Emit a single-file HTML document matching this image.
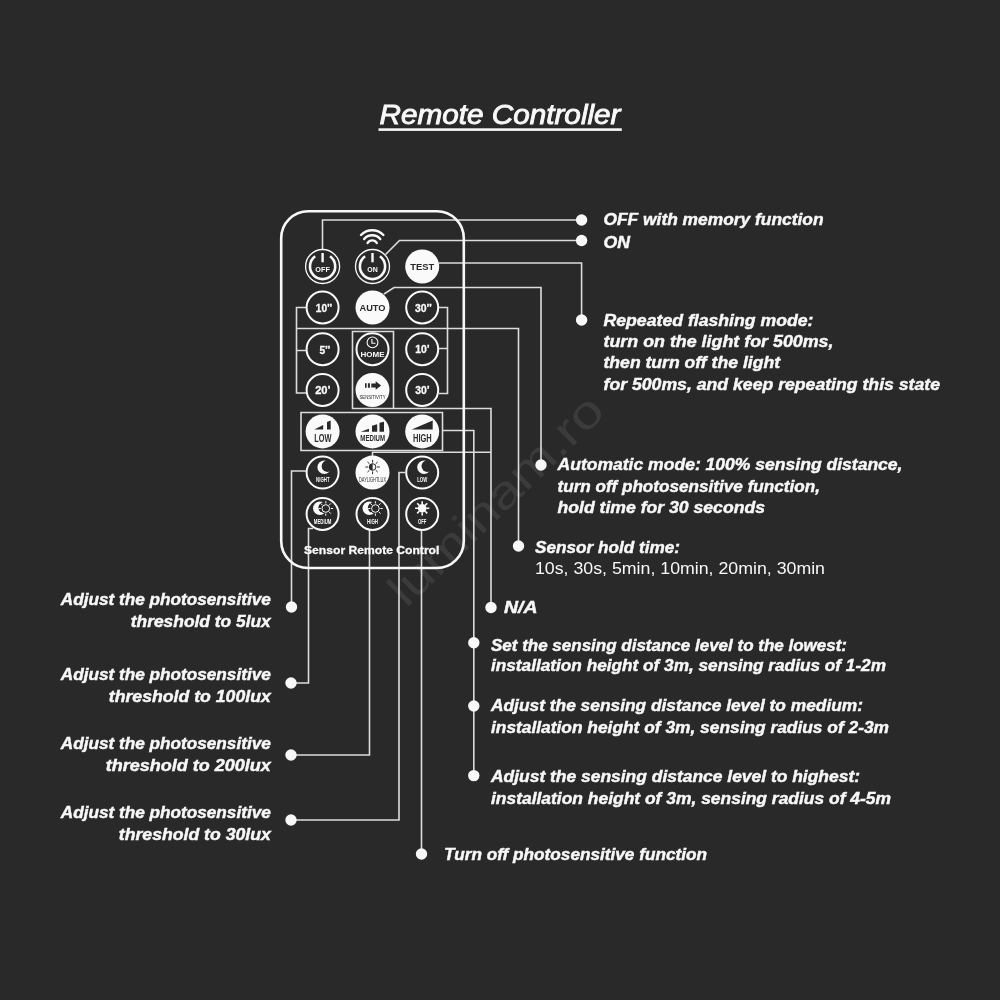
<!DOCTYPE html>
<html><head><meta charset="utf-8"><style>
html,body{margin:0;padding:0;background:#292929;width:1000px;height:1000px;overflow:hidden}
svg{display:block;will-change:transform}
</style></head><body>
<svg width="1000" height="1000" viewBox="0 0 1000 1000">
<rect width="1000" height="1000" fill="#292929"/>
<text x="379.5" y="123.5" font-family="Liberation Sans" font-style="italic" font-size="28" fill="#f8f8f8" stroke="#f8f8f8" stroke-width="0.9" textLength="241" lengthAdjust="spacingAndGlyphs">Remote Controller</text>
<rect x="378.5" y="128.3" width="243.3" height="2.6" fill="#f8f8f8"/>
<text x="0" y="0" transform="translate(406.3,608.7) rotate(-44.2)" font-family="Liberation Sans" font-size="46" fill="#3b3b3b" textLength="280" lengthAdjust="spacingAndGlyphs">luminam.ro</text>
<path d="M322.5,249 V220 H581.6" fill="none" stroke="#dcdcdc" stroke-width="1.6"/>
<path d="M385.5,254.5 L399.5,240.5 H581.6" fill="none" stroke="#dcdcdc" stroke-width="1.6"/>
<path d="M439,263 H581.6 V320" fill="none" stroke="#dcdcdc" stroke-width="1.6"/>
<path d="M384,294 L394,287.5 H541 V465" fill="none" stroke="#dcdcdc" stroke-width="1.6"/>
<path d="M306,307.5 H296.5 V393 H306 M306,350.5 H296.5 M296.5,328.5 H518.5 V546" fill="none" stroke="#dcdcdc" stroke-width="1.6"/>
<path d="M439,307.5 H447.5 V393.5 H439 M439,348.5 H447.5" fill="none" stroke="#dcdcdc" stroke-width="1.6"/>
<path d="M352.5,331.5 H393.5 V408.5 H352.5 Z M393.5,408.5 H491 V607.5" fill="none" stroke="#dcdcdc" stroke-width="1.6"/>
<path d="M301,412.5 H442.5 V450.5 H301 Z M442.5,430.5 H473.8 V775.6" fill="none" stroke="#dcdcdc" stroke-width="1.6"/>
<path d="M372.5,456 V452.2 H491" fill="none" stroke="#dcdcdc" stroke-width="1.6"/>
<path d="M306,471 H291.5 V607" fill="none" stroke="#dcdcdc" stroke-width="1.6"/>
<path d="M313,528.5 H308.5 V683 H291" fill="none" stroke="#dcdcdc" stroke-width="1.6"/>
<path d="M369.5,530 V755 H291" fill="none" stroke="#dcdcdc" stroke-width="1.6"/>
<path d="M405,472.5 H399 V820 H291" fill="none" stroke="#dcdcdc" stroke-width="1.6"/>
<path d="M421.5,530.5 V854" fill="none" stroke="#dcdcdc" stroke-width="1.6"/>
<circle cx="581.6" cy="220" r="5.7" fill="#f8f8f8"/>
<circle cx="581.6" cy="240.5" r="5.7" fill="#f8f8f8"/>
<circle cx="581.6" cy="320" r="5.7" fill="#f8f8f8"/>
<circle cx="541" cy="465" r="5.7" fill="#f8f8f8"/>
<circle cx="518.5" cy="546" r="5.7" fill="#f8f8f8"/>
<circle cx="491" cy="607.5" r="5.7" fill="#f8f8f8"/>
<circle cx="473.8" cy="642.7" r="5.7" fill="#f8f8f8"/>
<circle cx="473.8" cy="706" r="5.7" fill="#f8f8f8"/>
<circle cx="473.8" cy="775.6" r="5.7" fill="#f8f8f8"/>
<circle cx="291.5" cy="607" r="5.7" fill="#f8f8f8"/>
<circle cx="291" cy="683" r="5.7" fill="#f8f8f8"/>
<circle cx="291" cy="755" r="5.7" fill="#f8f8f8"/>
<circle cx="291" cy="820" r="5.7" fill="#f8f8f8"/>
<circle cx="421.5" cy="854" r="5.7" fill="#f8f8f8"/>
<rect x="281.2" y="211.2" width="182.6" height="356.8" rx="27" fill="none" stroke="#f8f8f8" stroke-width="2.6"/>
<circle cx="322.6" cy="266.5" r="17.0" fill="#292929" stroke="#fafafa" stroke-width="1.3"/>
<path d="M315.19,256.31 A12.6,12.6 0 1 0 330.01,256.31" fill="none" stroke="#fafafa" stroke-width="2.6"/>
<path d="M322.6,253.0 V262.3" stroke="#fafafa" stroke-width="2.4"/>
<text x="322.6" y="272.0" text-anchor="middle" font-family="Liberation Sans" font-weight="bold" font-size="7.2" fill="#fafafa" textLength="14.5" lengthAdjust="spacingAndGlyphs">OFF</text>
<circle cx="372.5" cy="266.5" r="17.0" fill="#292929" stroke="#fafafa" stroke-width="1.3"/>
<path d="M365.09,256.31 A12.6,12.6 0 1 0 379.91,256.31" fill="none" stroke="#fafafa" stroke-width="2.6"/>
<path d="M372.5,253.0 V262.3" stroke="#fafafa" stroke-width="2.4"/>
<text x="372.5" y="272.0" text-anchor="middle" font-family="Liberation Sans" font-weight="bold" font-size="7.2" fill="#fafafa" textLength="10.5" lengthAdjust="spacingAndGlyphs">ON</text>
<path d="M360.98,234.96 A15.6,15.6 0 0 1 383.42,234.96" fill="none" stroke="#fafafa" stroke-width="2.4" stroke-linecap="round"/>
<path d="M364.16,239.05 A10.5,10.5 0 0 1 380.24,239.05" fill="none" stroke="#fafafa" stroke-width="2.4" stroke-linecap="round"/>
<path d="M367.62,242.94 A5.4,5.4 0 0 1 376.78,242.94" fill="none" stroke="#fafafa" stroke-width="2.4" stroke-linecap="round"/>
<circle cx="422.2" cy="266.5" r="17.0" fill="#fafafa"/>
<text x="422.2" y="270.1" text-anchor="middle" font-family="Liberation Sans" font-weight="bold" font-size="9.6" fill="#292929" textLength="24" lengthAdjust="spacingAndGlyphs">TEST</text>
<circle cx="322.6" cy="307.5" r="16.0" fill="#292929" stroke="#fafafa" stroke-width="2.0"/>
<text x="324.1" y="311.9" text-anchor="middle" font-family="Liberation Sans" font-weight="bold" font-size="10.4" fill="#fafafa" textLength="16.5" lengthAdjust="spacingAndGlyphs" stroke="#fafafa" stroke-width="0.3">10’’</text>
<circle cx="372.5" cy="307.5" r="17.0" fill="#fafafa"/>
<text x="372.5" y="311.1" text-anchor="middle" font-family="Liberation Sans" font-weight="bold" font-size="9.2" fill="#292929" textLength="26" lengthAdjust="spacingAndGlyphs">AUTO</text>
<circle cx="422.2" cy="307.5" r="16.0" fill="#292929" stroke="#fafafa" stroke-width="2.0"/>
<text x="423.5" y="311.8" text-anchor="middle" font-family="Liberation Sans" font-weight="bold" font-size="10.4" fill="#fafafa" textLength="17" lengthAdjust="spacingAndGlyphs" stroke="#fafafa" stroke-width="0.3">30’’</text>
<circle cx="322.6" cy="349.2" r="16.0" fill="#292929" stroke="#fafafa" stroke-width="2.0"/>
<text x="324.90000000000003" y="354.0" text-anchor="middle" font-family="Liberation Sans" font-weight="bold" font-size="10.4" fill="#fafafa" textLength="11" lengthAdjust="spacingAndGlyphs" stroke="#fafafa" stroke-width="0.3">5’’</text>
<circle cx="372.5" cy="349.2" r="16.0" fill="#292929" stroke="#fafafa" stroke-width="2.0"/>
<circle cx="372.5" cy="342.4" r="5.4" fill="none" stroke="#fafafa" stroke-width="1.1"/>
<path d="M371.9,339.0 V343.2 H375.5" fill="none" stroke="#fafafa" stroke-width="1.1"/>
<text x="372.5" y="357.09999999999997" text-anchor="middle" font-family="Liberation Sans" font-weight="bold" font-size="8.0" fill="#fafafa" textLength="24" lengthAdjust="spacingAndGlyphs">HOME</text>
<circle cx="422.2" cy="349.2" r="16.0" fill="#292929" stroke="#fafafa" stroke-width="2.0"/>
<text x="422.5" y="353.2" text-anchor="middle" font-family="Liberation Sans" font-weight="bold" font-size="10.4" fill="#fafafa" textLength="14.5" lengthAdjust="spacingAndGlyphs" stroke="#fafafa" stroke-width="0.3">10’</text>
<circle cx="322.6" cy="390.0" r="16.0" fill="#292929" stroke="#fafafa" stroke-width="2.0"/>
<text x="322.90000000000003" y="394.1" text-anchor="middle" font-family="Liberation Sans" font-weight="bold" font-size="10.4" fill="#fafafa" textLength="15.5" lengthAdjust="spacingAndGlyphs" stroke="#fafafa" stroke-width="0.3">20’</text>
<circle cx="372.5" cy="390.0" r="17.0" fill="#fafafa"/>
<path d="M365.0,383.2 h1.6 v4.6 h-1.6 z M367.9,383.2 h2.0 v4.6 h-2.0 z M371.3,383.4 h4.4 v-2.2 l5.4,4.3 l-5.4,4.3 v-2.2 h-4.4 z" fill="#292929"/>
<text x="372.5" y="399.3" text-anchor="middle" font-family="Liberation Sans" font-weight="normal" font-size="6.0" fill="#292929" textLength="26" lengthAdjust="spacingAndGlyphs">SENSITIVITY</text>
<circle cx="422.2" cy="390.0" r="16.0" fill="#292929" stroke="#fafafa" stroke-width="2.0"/>
<text x="422.5" y="394.1" text-anchor="middle" font-family="Liberation Sans" font-weight="bold" font-size="10.4" fill="#fafafa" textLength="14.5" lengthAdjust="spacingAndGlyphs" stroke="#fafafa" stroke-width="0.3">30’</text>
<circle cx="322.6" cy="431.4" r="17.0" fill="#fafafa"/>
<text x="322.8" y="442.2" text-anchor="middle" font-family="Liberation Sans" font-weight="bold" font-size="11.2" fill="#2c2c2c" textLength="17.3" lengthAdjust="spacingAndGlyphs">LOW</text>
<circle cx="372.5" cy="431.4" r="17.0" fill="#fafafa"/>
<text x="372.7" y="440.8" text-anchor="middle" font-family="Liberation Sans" font-weight="bold" font-size="8.4" fill="#2c2c2c" textLength="24.7" lengthAdjust="spacingAndGlyphs">MEDIUM</text>
<circle cx="422.2" cy="431.4" r="17.0" fill="#fafafa"/>
<text x="422.4" y="442.2" text-anchor="middle" font-family="Liberation Sans" font-weight="bold" font-size="11.2" fill="#2c2c2c" textLength="18.7" lengthAdjust="spacingAndGlyphs">HIGH</text>
<path d="M314.2,429.5 L323.2,425 V429.5 Z M327,429.5 V422 L330.7,420.5 V429.5 Z" fill="#292929"/>
<path d="M360.7,431.7 L369,428.7 V431.7 Z M372,431.7 V425.7 L377.2,424.2 V431.7 Z M379.5,431.7 V422.7 L384,421.7 V431.7 Z" fill="#292929"/>
<path d="M411.7,429.5 L432.7,420.5 V429.5 Z" fill="#292929"/>
<circle cx="322.6" cy="472.6" r="16.0" fill="#292929" stroke="#fafafa" stroke-width="2.0"/>
<mask id="mk1" maskUnits="userSpaceOnUse" x="0" y="0" width="1000" height="1000"><rect width="1000" height="1000" fill="#fff"/><circle cx="327.6" cy="466.2" r="5.9" fill="#000"/></mask>
<circle cx="324.2" cy="467.3" r="6.75" fill="#fafafa" mask="url(#mk1)"/>
<text x="322.8" y="482" text-anchor="middle" font-family="Liberation Sans" font-weight="bold" font-size="7.0" fill="#fafafa" textLength="13.5" lengthAdjust="spacingAndGlyphs">NIGHT</text>
<circle cx="372.5" cy="472.6" r="17.0" fill="#fafafa"/>
<path d="M377.00,467.00 L379.80,467.00 M375.71,470.11 L377.69,472.09 M372.60,471.40 L372.60,474.20 M369.49,470.11 L367.51,472.09 M368.20,467.00 L365.40,467.00 M369.49,463.89 L367.51,461.91 M372.60,462.60 L372.60,459.80 M375.71,463.89 L377.69,461.91 " stroke="#292929" stroke-width="1.0"/>
<circle cx="372.6" cy="467" r="3.3" fill="none" stroke="#292929" stroke-width="1.0"/>
<path d="M372.6,463.7 A3.3,3.3 0 0 0 372.6,470.3 Z" fill="#292929"/>
<text x="372.5" y="482" text-anchor="middle" font-family="Liberation Sans" font-weight="normal" font-size="6.6" fill="#2c2c2c" textLength="27" lengthAdjust="spacingAndGlyphs">DAYLIGHTLUX</text>
<circle cx="422.2" cy="472.6" r="16.0" fill="#292929" stroke="#fafafa" stroke-width="2.0"/>
<mask id="mk2" maskUnits="userSpaceOnUse" x="0" y="0" width="1000" height="1000"><rect width="1000" height="1000" fill="#fff"/><circle cx="427.4" cy="466.1" r="5.9" fill="#000"/></mask>
<circle cx="424.0" cy="467.2" r="6.75" fill="#fafafa" mask="url(#mk2)"/>
<text x="422.2" y="482" text-anchor="middle" font-family="Liberation Sans" font-weight="bold" font-size="7.0" fill="#fafafa" textLength="10" lengthAdjust="spacingAndGlyphs">LOW</text>
<circle cx="322.6" cy="513.9" r="16.0" fill="#292929" stroke="#fafafa" stroke-width="2.0"/>
<mask id="mk3" maskUnits="userSpaceOnUse" x="0" y="0" width="1000" height="1000"><rect width="1000" height="1000" fill="#fff"/><circle cx="324.0" cy="507.6" r="5.6" fill="#000"/></mask>
<circle cx="319.8" cy="508.3" r="6.75" fill="#fafafa" mask="url(#mk3)"/>
<path d="M330.80,508.50 L333.10,508.50 M329.34,512.04 L330.96,513.66 M325.80,513.50 L325.80,515.80 M322.26,512.04 L320.64,513.66 M320.80,508.50 L318.50,508.50 M322.26,504.96 L320.64,503.34 M325.80,503.50 L325.80,501.20 M329.34,504.96 L330.96,503.34 " stroke="#fafafa" stroke-width="1.0"/>
<circle cx="325.8" cy="508.5" r="3.8" fill="none" stroke="#fafafa" stroke-width="1.0"/>
<text x="322.6" y="524" text-anchor="middle" font-family="Liberation Sans" font-weight="bold" font-size="7.0" fill="#fafafa" textLength="17.5" lengthAdjust="spacingAndGlyphs">MEDIUM</text>
<circle cx="372.5" cy="513.9" r="16.0" fill="#292929" stroke="#fafafa" stroke-width="2.0"/>
<mask id="mk4" maskUnits="userSpaceOnUse" x="0" y="0" width="1000" height="1000"><rect width="1000" height="1000" fill="#fff"/><circle cx="373.5" cy="507.6" r="5.6" fill="#000"/></mask>
<circle cx="369.3" cy="508.3" r="6.75" fill="#fafafa" mask="url(#mk4)"/>
<path d="M380.40,508.50 L382.70,508.50 M378.94,512.04 L380.56,513.66 M375.40,513.50 L375.40,515.80 M371.86,512.04 L370.24,513.66 M370.40,508.50 L368.10,508.50 M371.86,504.96 L370.24,503.34 M375.40,503.50 L375.40,501.20 M378.94,504.96 L380.56,503.34 " stroke="#fafafa" stroke-width="1.0"/>
<circle cx="375.4" cy="508.5" r="3.8" fill="none" stroke="#fafafa" stroke-width="1.0"/>
<text x="372.5" y="524" text-anchor="middle" font-family="Liberation Sans" font-weight="bold" font-size="7.0" fill="#fafafa" textLength="11" lengthAdjust="spacingAndGlyphs">HIGH</text>
<circle cx="422.2" cy="513.9" r="16.0" fill="#292929" stroke="#fafafa" stroke-width="2.0"/>
<path d="M426.40,508.30 L429.30,508.30 M425.17,511.27 L427.22,513.32 M422.20,512.50 L422.20,515.40 M419.23,511.27 L417.18,513.32 M418.00,508.30 L415.10,508.30 M419.23,505.33 L417.18,503.28 M422.20,504.10 L422.20,501.20 M425.17,505.33 L427.22,503.28 " stroke="#fafafa" stroke-width="1.6"/>
<circle cx="422.2" cy="508.3" r="4.3" fill="#fafafa"/>
<text x="422.2" y="524" text-anchor="middle" font-family="Liberation Sans" font-weight="bold" font-size="7.0" fill="#fafafa" textLength="8.5" lengthAdjust="spacingAndGlyphs">OFF</text>
<text x="304" y="554" font-family="Liberation Sans" font-weight="bold" font-size="11.6" fill="#fafafa" stroke="#fafafa" stroke-width="0.3" textLength="135.4" lengthAdjust="spacingAndGlyphs">Sensor Remote Control</text>
<text x="603.5" y="224.8" stroke="#f6f6f6" stroke-width="0.45" font-family="Liberation Sans" font-style="italic" font-weight="bold" font-size="16.3" fill="#f8f8f8" text-anchor="start" textLength="220" lengthAdjust="spacingAndGlyphs">OFF with memory function</text>
<text x="603.5" y="247.5" stroke="#f6f6f6" stroke-width="0.45" font-family="Liberation Sans" font-style="italic" font-weight="bold" font-size="16.3" fill="#f8f8f8" text-anchor="start" textLength="26.5" lengthAdjust="spacingAndGlyphs">ON</text>
<text x="603.5" y="325.6" stroke="#f6f6f6" stroke-width="0.45" font-family="Liberation Sans" font-style="italic" font-weight="bold" font-size="16.3" fill="#f8f8f8" text-anchor="start" textLength="210" lengthAdjust="spacingAndGlyphs">Repeated flashing mode:</text>
<text x="603.5" y="346.6" stroke="#f6f6f6" stroke-width="0.45" font-family="Liberation Sans" font-style="italic" font-weight="bold" font-size="16.3" fill="#f8f8f8" text-anchor="start" textLength="230" lengthAdjust="spacingAndGlyphs">turn on the light for 500ms,</text>
<text x="603.5" y="367.6" stroke="#f6f6f6" stroke-width="0.45" font-family="Liberation Sans" font-style="italic" font-weight="bold" font-size="16.3" fill="#f8f8f8" text-anchor="start" textLength="176.5" lengthAdjust="spacingAndGlyphs">then turn off the light</text>
<text x="603.5" y="389.6" stroke="#f6f6f6" stroke-width="0.45" font-family="Liberation Sans" font-style="italic" font-weight="bold" font-size="16.3" fill="#f8f8f8" text-anchor="start" textLength="336.5" lengthAdjust="spacingAndGlyphs">for 500ms, and keep repeating this state</text>
<text x="557.5" y="470.0" stroke="#f6f6f6" stroke-width="0.45" font-family="Liberation Sans" font-style="italic" font-weight="bold" font-size="16.3" fill="#f8f8f8" text-anchor="start" textLength="345" lengthAdjust="spacingAndGlyphs">Automatic mode: 100% sensing distance,</text>
<text x="557.5" y="491.9" stroke="#f6f6f6" stroke-width="0.45" font-family="Liberation Sans" font-style="italic" font-weight="bold" font-size="16.3" fill="#f8f8f8" text-anchor="start" textLength="262.5" lengthAdjust="spacingAndGlyphs">turn off photosensitive function,</text>
<text x="557.5" y="512.9" stroke="#f6f6f6" stroke-width="0.45" font-family="Liberation Sans" font-style="italic" font-weight="bold" font-size="16.3" fill="#f8f8f8" text-anchor="start" textLength="207.5" lengthAdjust="spacingAndGlyphs">hold time for 30 seconds</text>
<text x="535" y="552.8" stroke="#f6f6f6" stroke-width="0.45" font-family="Liberation Sans" font-style="italic" font-weight="bold" font-size="16.3" fill="#f8f8f8" text-anchor="start" textLength="145" lengthAdjust="spacingAndGlyphs">Sensor hold time:</text>
<text x="535" y="573.9" font-family="Liberation Sans" font-style="normal" font-weight="normal" font-size="16.3" fill="#f8f8f8" text-anchor="start" textLength="290" lengthAdjust="spacingAndGlyphs">10s, 30s, 5min, 10min, 20min, 30min</text>
<text x="504" y="612.5" stroke="#f6f6f6" stroke-width="0.45" font-family="Liberation Sans" font-style="italic" font-weight="bold" font-size="16.3" fill="#f8f8f8" text-anchor="start" textLength="33.5" lengthAdjust="spacingAndGlyphs">N/A</text>
<text x="491" y="650.6" stroke="#f6f6f6" stroke-width="0.45" font-family="Liberation Sans" font-style="italic" font-weight="bold" font-size="16.3" fill="#f8f8f8" text-anchor="start" textLength="356" lengthAdjust="spacingAndGlyphs">Set the sensing distance level to the lowest:</text>
<text x="491" y="671.2" stroke="#f6f6f6" stroke-width="0.45" font-family="Liberation Sans" font-style="italic" font-weight="bold" font-size="16.3" fill="#f8f8f8" text-anchor="start" textLength="395" lengthAdjust="spacingAndGlyphs">installation height of 3m, sensing radius of 1-2m</text>
<text x="491" y="711.4" stroke="#f6f6f6" stroke-width="0.45" font-family="Liberation Sans" font-style="italic" font-weight="bold" font-size="16.3" fill="#f8f8f8" text-anchor="start" textLength="372" lengthAdjust="spacingAndGlyphs">Adjust the sensing distance level to medium:</text>
<text x="491" y="732.9" stroke="#f6f6f6" stroke-width="0.45" font-family="Liberation Sans" font-style="italic" font-weight="bold" font-size="16.3" fill="#f8f8f8" text-anchor="start" textLength="398" lengthAdjust="spacingAndGlyphs">installation height of 3m, sensing radius of 2-3m</text>
<text x="491" y="782.4" stroke="#f6f6f6" stroke-width="0.45" font-family="Liberation Sans" font-style="italic" font-weight="bold" font-size="16.3" fill="#f8f8f8" text-anchor="start" textLength="369" lengthAdjust="spacingAndGlyphs">Adjust the sensing distance level to highest:</text>
<text x="491" y="803.9" stroke="#f6f6f6" stroke-width="0.45" font-family="Liberation Sans" font-style="italic" font-weight="bold" font-size="16.3" fill="#f8f8f8" text-anchor="start" textLength="400" lengthAdjust="spacingAndGlyphs">installation height of 3m, sensing radius of 4-5m</text>
<text x="444" y="859.9" stroke="#f6f6f6" stroke-width="0.45" font-family="Liberation Sans" font-style="italic" font-weight="bold" font-size="16.3" fill="#f8f8f8" text-anchor="start" textLength="263" lengthAdjust="spacingAndGlyphs">Turn off photosensitive function</text>
<text x="270.8" y="604.7" stroke="#f6f6f6" stroke-width="0.45" font-family="Liberation Sans" font-style="italic" font-weight="bold" font-size="16.3" fill="#f8f8f8" text-anchor="end" textLength="210" lengthAdjust="spacingAndGlyphs">Adjust the photosensitive</text>
<text x="270.8" y="626.8000000000001" stroke="#f6f6f6" stroke-width="0.45" font-family="Liberation Sans" font-style="italic" font-weight="bold" font-size="16.3" fill="#f8f8f8" text-anchor="end" textLength="140" lengthAdjust="spacingAndGlyphs">threshold to 5lux</text>
<text x="270.8" y="679.7" stroke="#f6f6f6" stroke-width="0.45" font-family="Liberation Sans" font-style="italic" font-weight="bold" font-size="16.3" fill="#f8f8f8" text-anchor="end" textLength="210" lengthAdjust="spacingAndGlyphs">Adjust the photosensitive</text>
<text x="270.8" y="701.8000000000001" stroke="#f6f6f6" stroke-width="0.45" font-family="Liberation Sans" font-style="italic" font-weight="bold" font-size="16.3" fill="#f8f8f8" text-anchor="end" textLength="162" lengthAdjust="spacingAndGlyphs">threshold to 100lux</text>
<text x="270.8" y="748.7" stroke="#f6f6f6" stroke-width="0.45" font-family="Liberation Sans" font-style="italic" font-weight="bold" font-size="16.3" fill="#f8f8f8" text-anchor="end" textLength="210" lengthAdjust="spacingAndGlyphs">Adjust the photosensitive</text>
<text x="270.8" y="770.8000000000001" stroke="#f6f6f6" stroke-width="0.45" font-family="Liberation Sans" font-style="italic" font-weight="bold" font-size="16.3" fill="#f8f8f8" text-anchor="end" textLength="165" lengthAdjust="spacingAndGlyphs">threshold to 200lux</text>
<text x="270.8" y="817.7" stroke="#f6f6f6" stroke-width="0.45" font-family="Liberation Sans" font-style="italic" font-weight="bold" font-size="16.3" fill="#f8f8f8" text-anchor="end" textLength="210" lengthAdjust="spacingAndGlyphs">Adjust the photosensitive</text>
<text x="270.8" y="839.8000000000001" stroke="#f6f6f6" stroke-width="0.45" font-family="Liberation Sans" font-style="italic" font-weight="bold" font-size="16.3" fill="#f8f8f8" text-anchor="end" textLength="152" lengthAdjust="spacingAndGlyphs">threshold to 30lux</text>
</svg>
</body></html>
